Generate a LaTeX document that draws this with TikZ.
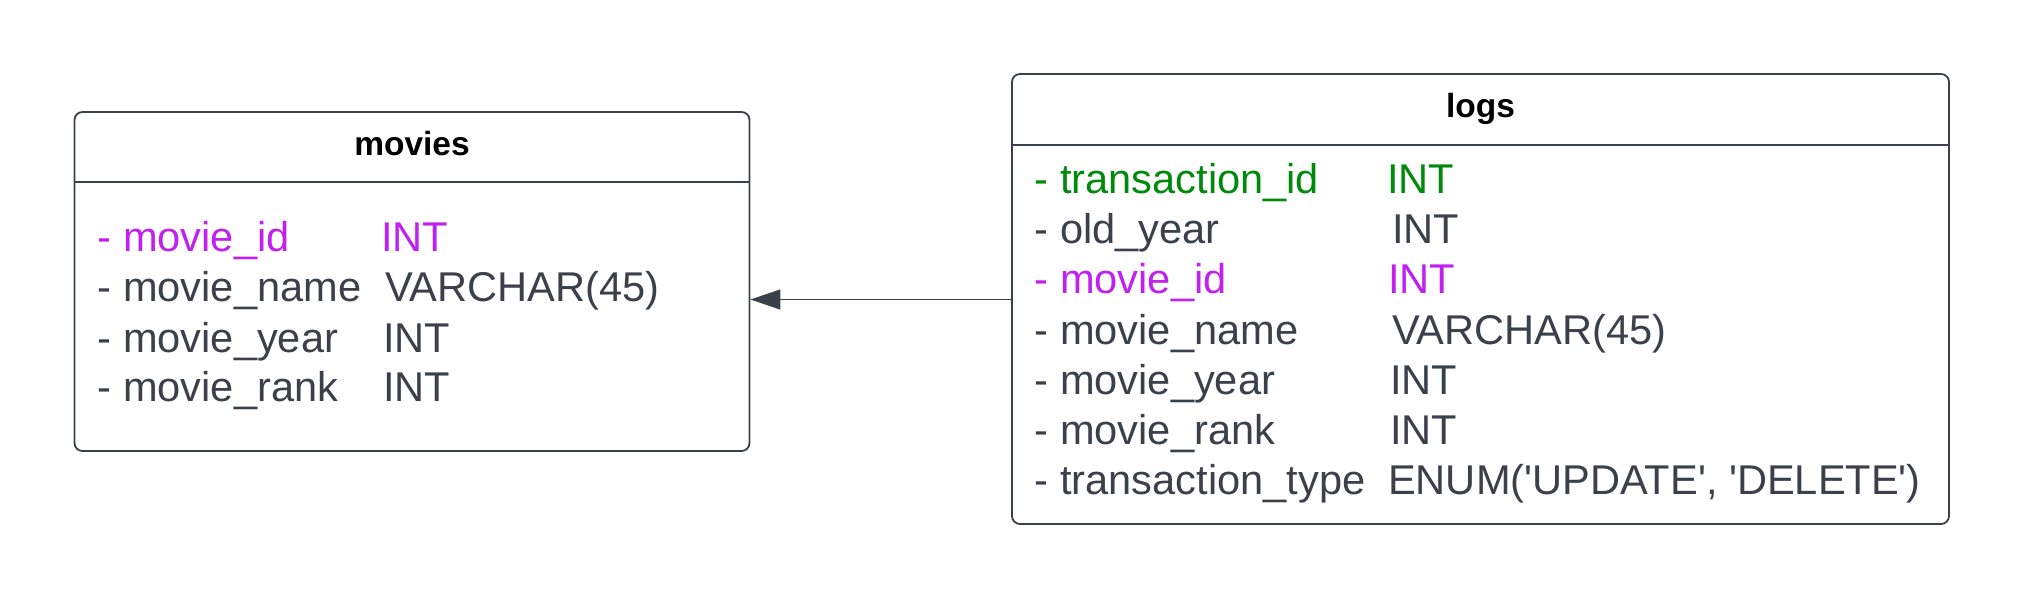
\documentclass[tikz,border=0pt]{standalone}
\usepackage{fontspec}
\setmainfont{Liberation Sans}[Ligatures=TeXOff]
\usetikzlibrary{arrows.meta}
\definecolor{ink}{HTML}{3A414A}
\definecolor{keypurple}{HTML}{C020F0}
\definecolor{keygreen}{HTML}{00890A}
\begin{document}
\begin{tikzpicture}[x=1bp,y=-1bp,
  tablebox/.style={draw=ink, line width=1.8bp, rounded corners=8bp, fill=white, inner sep=0pt},
  tabletitle/.style={anchor=base, inner sep=0pt, font=\fontsize{33.5bp}{40bp}\selectfont\bfseries, text=black},
  fieldrow/.style={anchor=base west, inner sep=0pt, font=\fontsize{41.6bp}{50bp}\selectfont, text=ink},
  pk/.style={text=keygreen},
  fk/.style={text=keypurple},
  rel/.style={draw=ink, line width=1.3bp, -{Triangle[length=30bp,width=20bp]}}]
\useasboundingbox (0,0) rectangle (2025,600);
\fill[white] (0,0) rectangle (2025,600);
% movies table
\node[tablebox, minimum width=675bp, minimum height=339bp] (movies) at (412,281.5) {};
\coordinate (mh) at (0,182);
\draw[ink, line width=1.5bp] (movies.west |- mh) -- (movies.east |- mh);
\node[tabletitle] (moviesT) at (412,156) {movies};
\node[fieldrow, fk] (m1a) at (97.5,252) {- movie\_id};
\node[fieldrow, fk] (m1b) at (381,252) {INT};
\node[fieldrow] (m2a) at (97.5,302) {- movie\_name};
\node[fieldrow] (m2b) at (385,302) {VARCHAR(45)};
\node[fieldrow] (m3a) at (97.5,352) {- movie\_year};
\node[fieldrow] (m3b) at (383,352) {INT};
\node[fieldrow] (m4a) at (97.5,401) {- movie\_rank};
\node[fieldrow] (m4b) at (383,401) {INT};
% logs table
\node[tablebox, minimum width=937bp, minimum height=450bp] (logs) at (1480.5,299) {};
\coordinate (lh) at (0,145);
\draw[ink, line width=1.5bp] (logs.west |- lh) -- (logs.east |- lh);
\node[tabletitle] (logsT) at (1480.5,118) {logs};
\node[fieldrow, pk] (l1a) at (1034.5,194) {- transaction\_id};
\node[fieldrow, pk] (l1b) at (1387,194) {INT};
\node[fieldrow] (l2a) at (1034.5,244) {- old\_year};
\node[fieldrow] (l2b) at (1392,244) {INT};
\node[fieldrow, fk] (l3a) at (1034.5,294) {- movie\_id};
\node[fieldrow, fk] (l3b) at (1388,294) {INT};
\node[fieldrow] (l4a) at (1034.5,344) {- movie\_name};
\node[fieldrow] (l4b) at (1392,344) {VARCHAR(45)};
\node[fieldrow] (l5a) at (1034.5,394) {- movie\_year};
\node[fieldrow] (l5b) at (1390,394) {INT};
\node[fieldrow] (l6a) at (1034.5,444) {- movie\_rank};
\node[fieldrow] (l6b) at (1390,444) {INT};
\node[fieldrow] (l7a) at (1034.5,494) {- transaction\_type};
\node[fieldrow] (l7b) at (1388,494) {ENUM('UPDATE', 'DELETE')};
% relation
\coordinate (ry) at (0,299.5);
\draw[rel] (logs.west |- ry) -- (movies.east |- ry);
\end{tikzpicture}
\end{document}
